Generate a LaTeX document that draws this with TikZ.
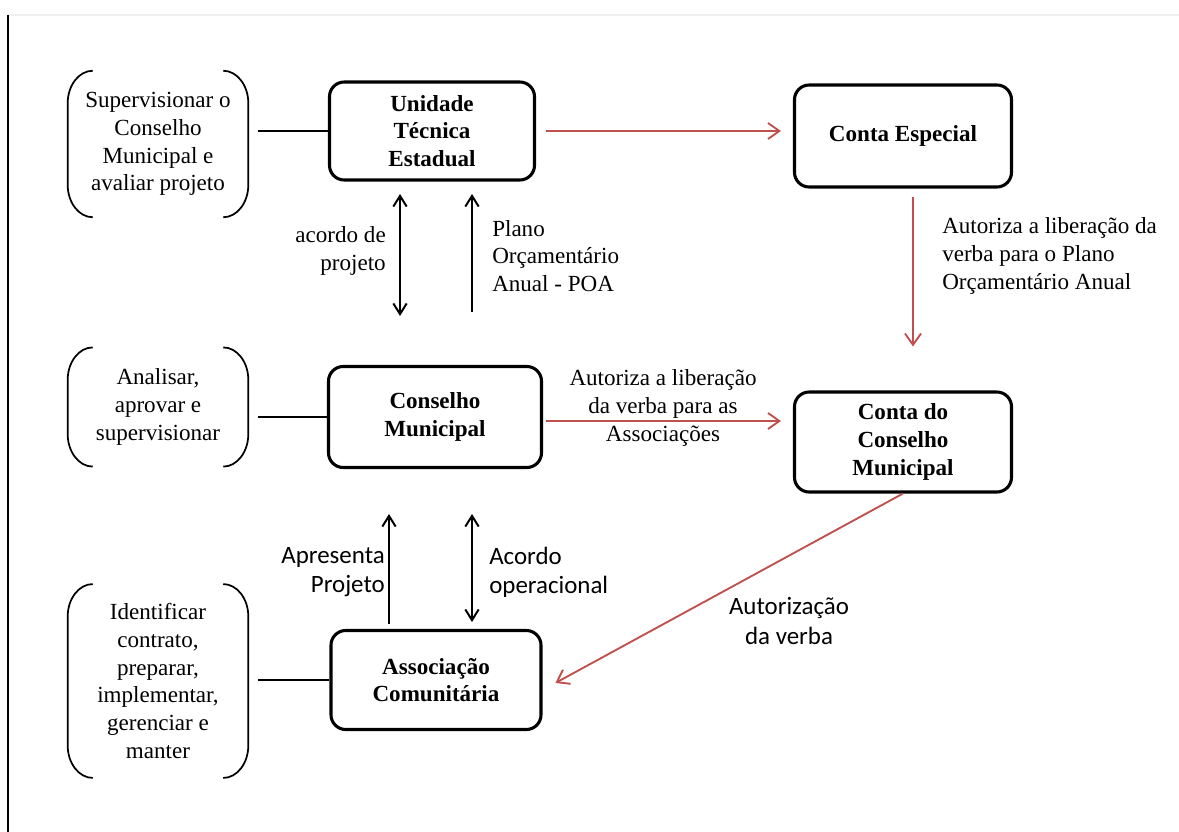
\documentclass[tikz,border=0pt]{standalone}
\usepackage{fontspec}
\setmainfont{Liberation Serif}
\newfontfamily\calibrifont{Carlito}
\usetikzlibrary{arrows.meta,calc}
\definecolor{accentred}{RGB}{192,80,77}
\begin{document}
\begin{tikzpicture}[x=0.75pt,y=-0.75pt,
  serif/.style={font=\fontsize{17.3}{20.8}\selectfont},
  mainbox/.style={draw, line width=2.3pt, rounded corners=11pt,
    font=\fontsize{17.3}{20.8}\selectfont\bfseries, align=center, inner sep=0pt},
  taskbox/.style={serif, align=center, inner sep=0pt, minimum width=135pt},
  bracketline/.style={line width=1.3pt},
  link/.style={line width=1.1pt},
  flow/.style={line width=1.5pt},
  tip/.style={-{Straight Barb[length=8pt,width=10pt]}},
  bitip/.style={{Straight Barb[length=8pt,width=10pt]}-{Straight Barb[length=8pt,width=10pt]}},
  redflow/.style={draw=accentred, line width=1.4pt, -{Straight Barb[length=8.5pt,width=12pt]}},
  lbl/.style={serif, inner sep=0pt},
  clbl/.style={font=\calibrifont\fontsize{18.7}{21.8}\selectfont, inner sep=0pt}]

\useasboundingbox (0,0) rectangle (1179,832);
\fill[white] (0,0) rectangle (1179,832);

% page frame
\draw[gray!12, line width=1pt] (8,15) -- (1179,15);
\draw[line width=1.5pt] (8,15) -- (8,832);

% main units
\node[mainbox, minimum width=153.75pt, minimum height=73.5pt] (ute) at (432,131) {Unidade\\Técnica\\Estadual};
\node[mainbox, minimum width=162.75pt, minimum height=76.5pt] (ce) at (903,136) {Conta Especial};
\node[mainbox, minimum width=159.75pt, minimum height=75.75pt] (cm) at (435,417) {Conselho\\Municipal};
\node[mainbox, minimum width=162.75pt, minimum height=75pt] (ccm) at (903,442) {Conta do\\Conselho\\Municipal};
\node[mainbox, minimum width=157.5pt, minimum height=74.25pt] (ac) at (436,680) {Associação\\Comunitária};

% responsibilities
\node[taskbox, minimum height=109.5pt] (t1) at (158,144) {Supervisionar o\\Conselho\\Municipal e\\avaliar projeto};
\node[taskbox, minimum height=89pt] (t2) at (158,407) {Analisar,\\aprovar e\\supervisionar};
\node[taskbox, minimum height=145pt] (t3) at (158,681) {Identificar\\contrato,\\preparar,\\implementar,\\gerenciar e\\manter};

% round brackets drawn on both sides of each responsibility
\foreach \b in {t1,t2,t3}{
  \draw[bracketline]
    ($(\b.north west)+(25,0)$) .. controls ($(\b.north west)+(11,0)$) and ($(\b.north west)+(0,15)$) .. ($(\b.north west)+(0,32)$)
    -- ($(\b.south west)+(0,-32)$) .. controls ($(\b.south west)+(0,-15)$) and ($(\b.south west)+(11,0)$) .. ($(\b.south west)+(25,0)$);
  \draw[bracketline]
    ($(\b.north east)+(-25,0)$) .. controls ($(\b.north east)+(-11,0)$) and ($(\b.north east)+(0,15)$) .. ($(\b.north east)+(0,32)$)
    -- ($(\b.south east)+(0,-32)$) .. controls ($(\b.south east)+(0,-15)$) and ($(\b.south east)+(-11,0)$) .. ($(\b.south east)+(-25,0)$);
}

\draw[link, shorten <=7.5pt] (t1.east |- ute.west) -- (ute.west);
\draw[link, shorten <=7.5pt] (t2.east |- cm.west) -- (cm.west);
\draw[link, shorten <=7.5pt] (t3.east |- ac.west) -- (ac.west);

% flows of funds
\draw[redflow, shorten <=7.5pt, shorten >=9pt] (ute.east) -- (ute.east -| ce.west);
\draw[redflow, shorten <=6pt, shorten >=33pt] ([xshift=7.5pt]ce.south) -- ([xshift=7.5pt]ce.south |- ccm.north);
\draw[redflow, shorten <=2pt, shorten >=9pt] ([yshift=-3pt]cm.east) -- ([yshift=-3pt]cm.east -| ccm.west);
\draw[redflow, shorten >=11pt] (ccm.south) -- ([yshift=-7.5pt]ac.east);

\node[lbl, anchor=west, align=left] (lce) at (942,256) {Autoriza a liberação da\\verba para o Plano\\Orçamentário Anual};
\node[lbl, align=center] (lcm) at (663,408) {Autoriza a liberação\\da verba para as\\Associações};
\node[clbl, align=center] (lac) at (789,621) {Autorização\\da verba};

% vertical exchanges
\coordinate (a1t) at (400,194);
\coordinate (a1b) at (400,316);
\coordinate (a2t) at (472,194);
\coordinate (a2b) at (472,312);
\coordinate (a3t) at (389,514);
\coordinate (a3b) at (389,624);
\coordinate (a4t) at (472,514);
\coordinate (a4b) at (472,622);

\draw[flow, bitip] (a1t) -- (a1b);
\draw[flow, tip] (a2b) -- (a2t);
\draw[flow, tip] (a3b) -- (a3t);
\draw[flow, bitip] (a4t) -- (a4b);

\node[lbl, anchor=east, align=right] (l1) at (386,251) {acordo de\\projeto};
\node[lbl, anchor=west, align=left] (l2) at (492,256) {Plano\\Orçamentário\\Anual - POA};
\node[clbl, anchor=east, align=right] (l3) at (385,572) {Apresenta\\Projeto};
\node[clbl, anchor=west, align=left] (l4) at (489,572) {Acordo\\operacional};

\end{tikzpicture}
\end{document}
